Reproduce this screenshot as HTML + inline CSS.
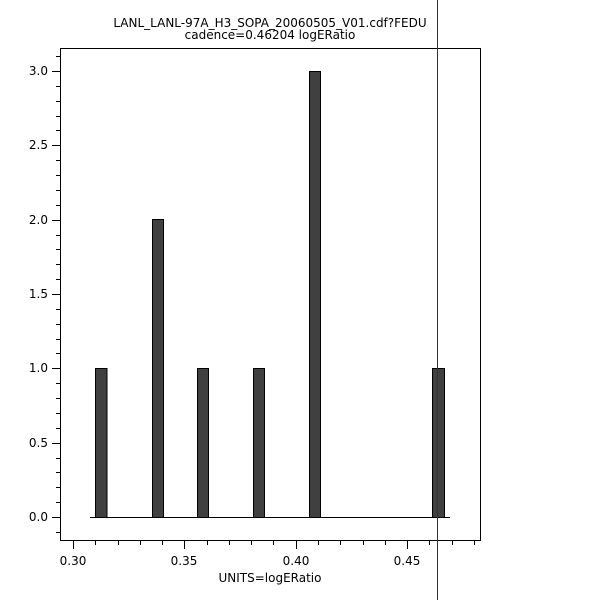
<!DOCTYPE html>
<html><head><style>
html,body{margin:0;padding:0;background:#fff;}
svg{display:block;font-family:"DejaVu Sans","Liberation Sans",sans-serif;}
</style></head><body>
<svg id="s" width="600" height="600" xmlns="http://www.w3.org/2000/svg">
<rect width="600" height="600" fill="#fff"/>
<text x="270" y="27" font-size="12" text-anchor="middle">LANL_LANL-97A_H3_SOPA_20060505_V01.cdf?FEDU</text>
<text x="270" y="39" font-size="12" text-anchor="middle">cadence=0.46204 logERatio</text>
<rect x="60.5" y="48.5" width="420" height="492" fill="none" stroke="#000"/>
<line x1="90" y1="517.5" x2="450" y2="517.5" stroke="#000"/>
<g fill="#404040" stroke="#000">
<rect x="95.5" y="368.5" width="11.5" height="149"/>
<rect x="152.5" y="219.5" width="11" height="298"/>
<rect x="197.5" y="368.5" width="11" height="149"/>
<rect x="253.5" y="368.5" width="11" height="149"/>
<rect x="309.5" y="71.5" width="11" height="446"/>
<rect x="432.5" y="368.5" width="12" height="149"/>
</g>
<g id="t" stroke="#000"></g>
<g font-size="12" text-anchor="end">
<text x="48" y="75">3.0</text><text x="48" y="149">2.5</text><text x="48" y="224">2.0</text>
<text x="48" y="298">1.5</text><text x="48" y="372">1.0</text><text x="48" y="447">0.5</text>
<text x="48" y="521">0.0</text>
</g>
<g font-size="12" text-anchor="middle">
<text x="73" y="565">0.30</text><text x="184" y="565">0.35</text><text x="296" y="565">0.40</text><text x="407" y="565">0.45</text>
<text x="270" y="582">UNITS=logERatio</text>
</g>
<line x1="437.5" y1="0" x2="437.5" y2="600" stroke="#333"/>
</svg>
<script>
var g=document.getElementById('t'),h='';
for(var i=-1;i<=32;i++){var y=Math.round(517-i*14.867)+0.5;if(y<49||y>540)continue;var L=(i%5==0)?8:4;h+='<line x1="'+(60-L)+'" y1="'+y+'" x2="60" y2="'+y+'"/>';}
for(var j=29;j<=48;j++){var x=Math.round(73+(j-30)*22.27)+0.5;if(x<61||x>480)continue;var L=(j%5==0)?8:4;h+='<line x1="'+x+'" y1="541" x2="'+x+'" y2="'+(541+L)+'"/>';}
g.innerHTML=h;
</script>
</body></html>
